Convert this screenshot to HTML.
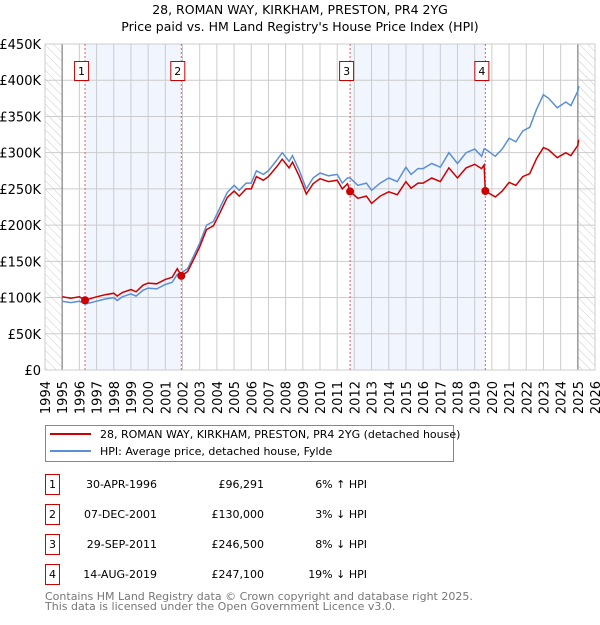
<!DOCTYPE html>
<html><head><meta charset="utf-8"><style>
body{margin:0;background:#fff;font-family:"Liberation Sans","DejaVu Sans",sans-serif}
svg text{font-family:"DejaVu Sans","Liberation Sans",sans-serif}
</style></head><body>
<svg id="c" width="600" height="620" xmlns="http://www.w3.org/2000/svg">
<defs><pattern id="hatch" width="6" height="6" patternUnits="userSpaceOnUse" patternTransform="rotate(-45)"><line x1="0" y1="0" x2="0" y2="6" stroke="#ccc" stroke-width="1"/></pattern></defs>
<text x="300" y="14" text-anchor="middle" font-size="12.5">28, ROMAN WAY, KIRKHAM, PRESTON, PR4 2YG</text>
<text x="300" y="31" text-anchor="middle" font-size="12.5">Price paid vs. HM Land Registry's House Price Index (HPI)</text>
<g id="plot"></g>
<g>
<rect x="45.5" y="425.5" width="408" height="36" fill="#fff" stroke="#888"/>
<line x1="50" y1="434" x2="91" y2="434" stroke="#cc0000" stroke-width="2"/>
<text x="100" y="438" font-size="11">28, ROMAN WAY, KIRKHAM, PRESTON, PR4 2YG (detached house)</text>
<line x1="50" y1="451" x2="91" y2="451" stroke="#5b8fd6" stroke-width="2"/>
<text x="100" y="455" font-size="11">HPI: Average price, detached house, Fylde</text>
</g>
<g id="table" font-size="11"></g>
<text x="45" y="600" font-size="11" fill="#777">Contains HM Land Registry data © Crown copyright and database right 2025.</text>
<text x="45" y="610" font-size="11" fill="#777">This data is licensed under the Open Government Licence v3.0.</text>
</svg>
<script>
const dates=[1995.0,1995.5,1996.0,1996.33,1997.0,1997.5,1998.0,1998.2,1998.5,1999.0,1999.3,1999.7,2000.0,2000.5,2001.0,2001.4,2001.7,2001.93,2002.3,2002.7,2003.0,2003.4,2003.8,2004.2,2004.6,2005.0,2005.3,2005.7,2006.0,2006.3,2006.7,2007.0,2007.5,2007.8,2008.2,2008.4,2008.8,2009.2,2009.6,2010.0,2010.5,2011.0,2011.3,2011.6,2011.75,2012.2,2012.7,2013.0,2013.5,2014.0,2014.5,2015.0,2015.3,2015.7,2016.0,2016.5,2017.0,2017.5,2018.0,2018.5,2019.0,2019.4,2019.55,2019.62,2020.2,2020.6,2021.0,2021.4,2021.8,2022.2,2022.6,2023.0,2023.3,2023.8,2024.3,2024.6,2025.0,2025.05];
const hpi=[95,93,95,91,95,98,100,96,101,105,102,110,113,112,118,121,132,134,140,160,175,200,205,225,245,255,248,258,258,275,270,275,290,300,288,296,275,250,265,272,268,270,258,265,265,255,258,248,258,265,260,280,270,278,278,285,280,300,285,300,305,295,305,305,295,305,320,315,330,335,360,380,375,362,370,365,385,392];
const price=[101,99,101,96.3,101,104,106,102,107,111,108,117,120,119,125,128,140,130,136,155,170,194,199,218,238,247,240,250,250,267,262,267,281,291,279,287,267,243,257,264,260,262,250,257,246.5,237,240,230,240,246,242,260,251,258,258,265,260,279,265,279,284,278,283,247,239,247,259,255,267,271,292,307,304,293,300,296,310,318];
const saleDates=[1996.33,2001.93,2011.75,2019.62];
const salePrices=[96.291,130,246.5,247.1];
const saleLabels=["1","2","3","4"];
const saleDateText=["30-APR-1996","07-DEC-2001","29-SEP-2011","14-AUG-2019"];
const salePriceText=["£96,291","£130,000","£246,500","£247,100"];
const saleHpiText=["6% ↑ HPI","3% ↓ HPI","8% ↓ HPI","19% ↓ HPI"];
const yTicks=[0,50,100,150,200,250,300,350,400,450];
const yTickLabels=["£0","£50K","£100K","£150K","£200K","£250K","£300K","£350K","£400K","£450K"];
const xYears=[];for(let y=1994;y<=2026;y++)xYears.push(y);

const L=45,R=595,T=44,B=370;
const x=v=>L+(v-1994)/32*(R-L);
const y=v=>B-v/450*(B-T);
const NS="http://www.w3.org/2000/svg";
const plot=document.getElementById('plot');
function mk(tag,at,parent){const e=document.createElementNS(NS,tag);for(const k in at)e.setAttribute(k,at[k]);(parent||plot).appendChild(e);return e;}

let e;
e=mk('rect',{x:x(1994),y:T,width:x(1995)-x(1994),height:B-T,fill:'url(#hatch)'});


e=mk('rect',{x:x(2025),y:T,width:x(2026)-x(2025),height:B-T,fill:'url(#hatch)'});


e=mk('rect',{x:x(saleDates[0]),y:T,width:x(saleDates[1])-x(saleDates[0]),height:B-T,fill:'#f1f5fd'});


e=mk('rect',{x:x(saleDates[2]),y:T,width:x(saleDates[3])-x(saleDates[2]),height:B-T,fill:'#f1f5fd'});



yTicks.forEach((t,i)=>{
 e=mk('line',{x1:L,x2:R,y1:y(t),y2:y(t),stroke:'#ccc','stroke-width':1});
 
 
 e=mk('text',{x:L-4,y:y(t)+5,'text-anchor':'end','font-size':13});
 e.textContent=yTickLabels[i];
 
 
});
xYears.forEach(yr=>{
 const dark=(yr===1995||yr===2025);
 e=mk('line',{x1:x(yr),x2:x(yr),y1:T,y2:B,stroke:dark?'#999':'#ccc','stroke-width':dark?1.5:1});
 
 
 e=mk('text',{x:0,y:0,'text-anchor':'end','font-size':13,transform:`translate(${x(yr)+5},381) rotate(-90)`});
 e.textContent=yr;
 
 
});
e=mk('rect',{x:L,y:T,width:R-L,height:B-T,fill:'none',stroke:'#ccc'});



saleDates.forEach((d,i)=>{
 e=mk('line',{x1:x(d),x2:x(d),y1:T,y2:B,stroke:'#e06060','stroke-width':1,'stroke-dasharray':'2,2'});
 
 
});

const pts=(arr)=>dates.map((d,i)=>x(d).toFixed(1)+','+y(arr[i]).toFixed(1)).join(' ');
e=mk('polyline',{points:pts(hpi),fill:'none',stroke:'#5b8fd6','stroke-width':1.5});


e=mk('polyline',{points:pts(price),fill:'none',stroke:'#cc0000','stroke-width':1.5});



saleDates.forEach((d,i)=>{
 e=mk('circle',{cx:x(d),cy:y(salePrices[i]),r:4,fill:'#cc0000'});
 
 
 e=mk('rect',{x:x(d)-10.5,y:61.5,width:14,height:19,fill:'#fff',stroke:'#cc0000'});
 
 
 e=mk('text',{x:x(d)-3.5,y:75,'text-anchor':'middle','font-size':11});
 e.textContent=saleLabels[i];
 
 
});

const tb=document.getElementById('table');
saleDates.forEach((d,i)=>{
 const ry=483+i*30;
 e=mk('rect',{x:45.5,y:ry-8.5,width:14,height:20,fill:'#fff',stroke:'#cc0000'},tb);
 
 
 e=mk('text',{x:52.5,y:ry+5,'text-anchor':'middle'},tb);e.textContent=saleLabels[i];
 
 
 e=mk('text',{x:157,y:ry+5,'text-anchor':'end'},tb);e.textContent=saleDateText[i];
 
 
 e=mk('text',{x:264,y:ry+5,'text-anchor':'end'},tb);e.textContent=salePriceText[i];
 
 
 e=mk('text',{x:367,y:ry+5,'text-anchor':'end'},tb);e.textContent=saleHpiText[i];
 
 
});
</script>
</body></html>
